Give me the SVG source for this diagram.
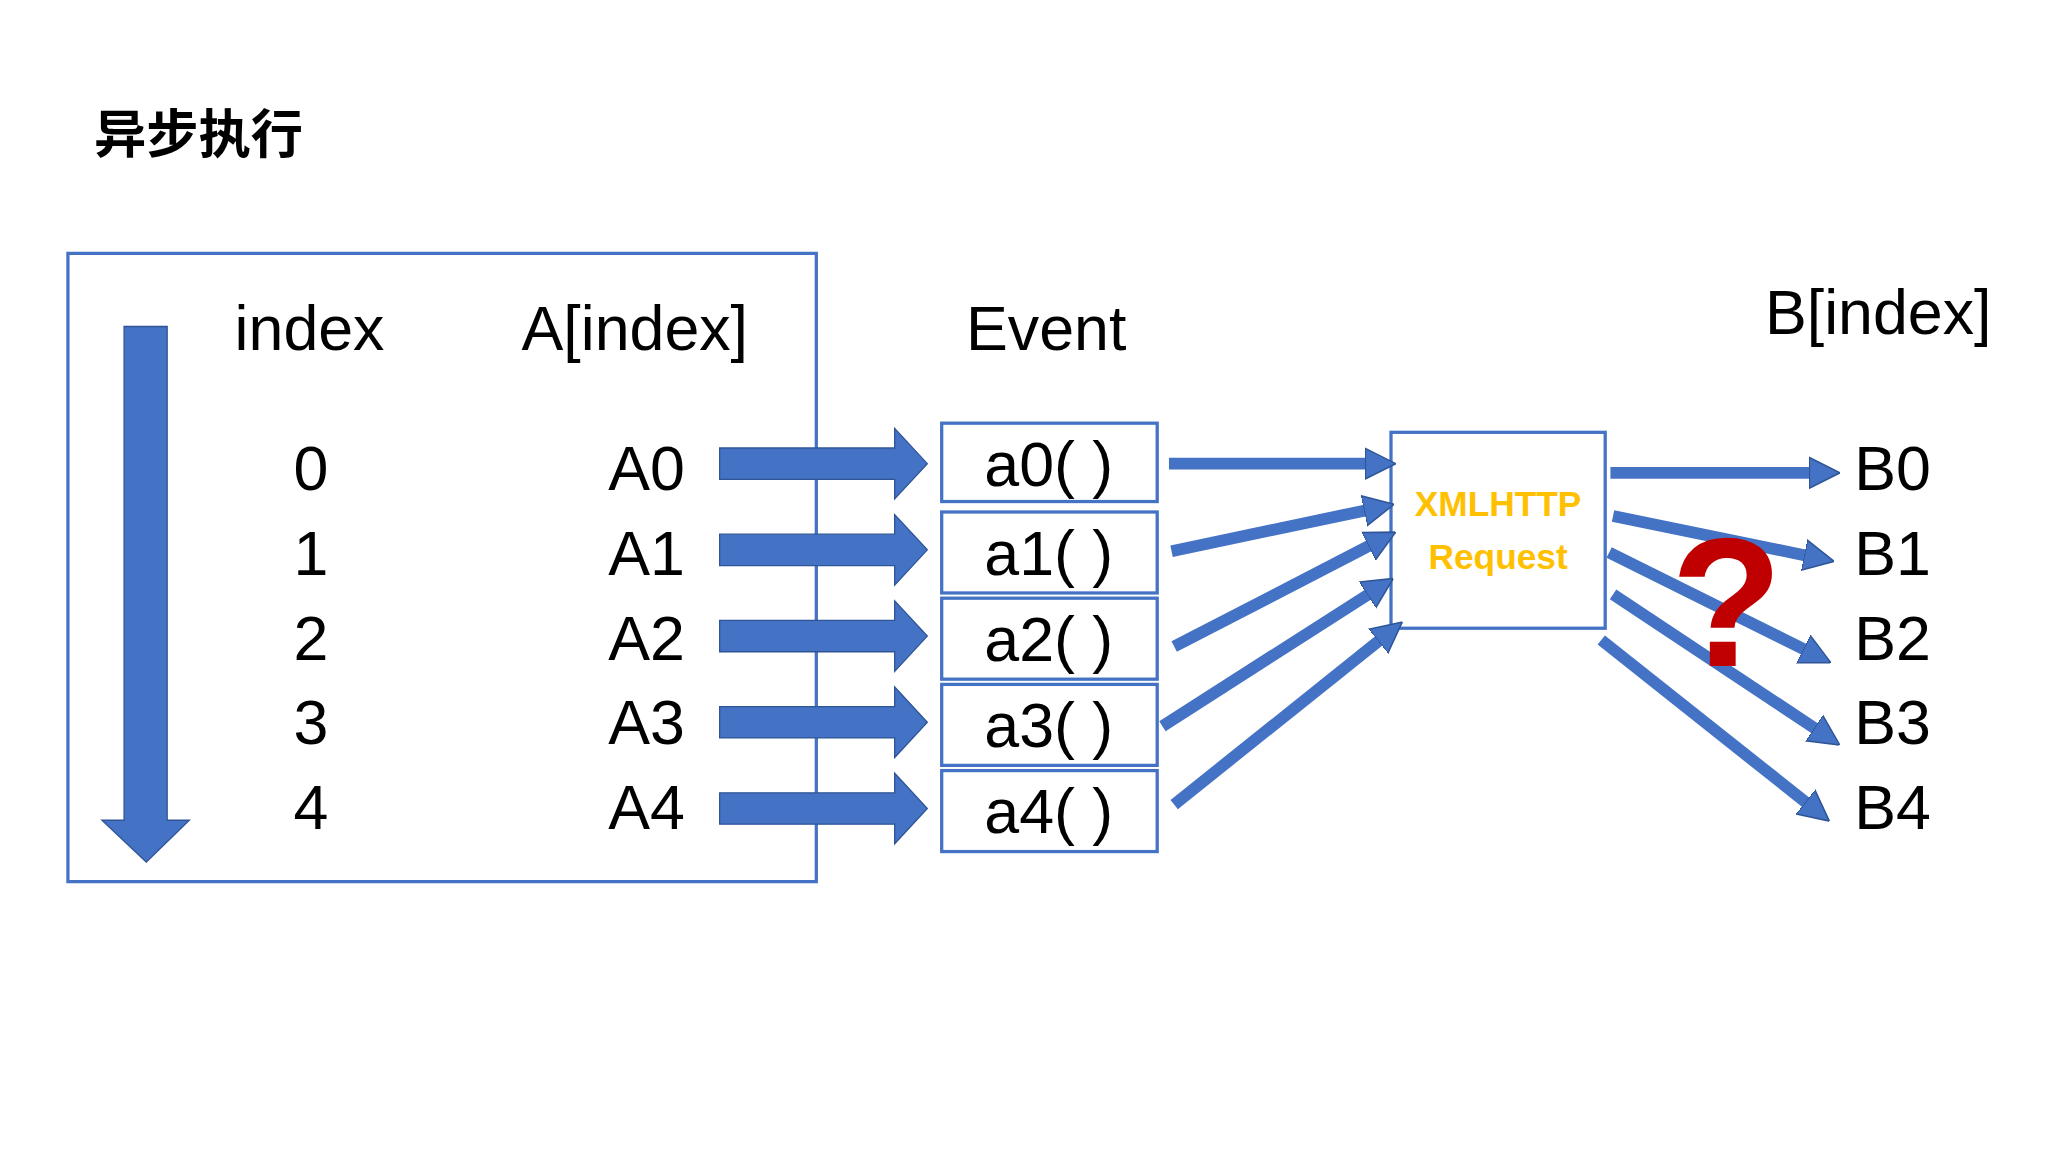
<svg xmlns="http://www.w3.org/2000/svg" width="2048" height="1152" viewBox="0 0 2048 1152">
<defs>
<style>
.t{font-family:"Liberation Sans","Noto Sans CJK SC",sans-serif;fill:#000;font-size:48px;text-anchor:middle}
.box{fill:#fff;stroke:#4472C4;stroke-width:2.5}
.blk{fill:#4472C4;stroke:#2F5597;stroke-width:1}
.ln{stroke:#4472C4;stroke-width:9;fill:none;marker-end:url(#ah)}
</style>
<marker id="ah" viewBox="0 0 10 10" refX="2" refY="5" markerWidth="2.6" markerHeight="3" orient="auto" markerUnits="strokeWidth">
<path d="M0,0 L10,5 L0,10 z" fill="#4472C4" stroke="#2F5597" stroke-width="0.5"/>
</marker>
</defs>
<rect width="2048" height="1152" fill="#fff"/>
<g transform="scale(1.3061)">
<text x="72" y="117" class="t" style="text-anchor:start;font-size:40px;font-weight:bold">异步执行</text>
<g id="leftbox">
<rect x="52" y="194" width="573" height="481" class="box"/>
<path d="M95,250 H128 V628 H145 L112,660 L78,628 H95 Z" class="blk"/>
<text x="237" y="268" class="t">index</text>
<text x="486" y="268" class="t">A[index]</text>
<text x="238" y="375" class="t">0</text><text x="238" y="440" class="t">1</text><text x="238" y="505" class="t">2</text><text x="238" y="570" class="t">3</text><text x="238" y="635" class="t">4</text>
<text x="495" y="375" class="t">A0</text><text x="495" y="440" class="t">A1</text><text x="495" y="505" class="t">A2</text><text x="495" y="570" class="t">A3</text><text x="495" y="635" class="t">A4</text>
</g>
<text x="801" y="268" class="t">Event</text>
<text x="1438" y="256" class="t">B[index]</text>
<g id="blockarrows">
<path d="M551,343 H685 V328 L710,355 L685,382 V367 H551 Z" class="blk"/>
<path d="M551,409 H685 V394 L710,421 L685,448 V433 H551 Z" class="blk"/>
<path d="M551,475 H685 V460 L710,487 L685,514 V499 H551 Z" class="blk"/>
<path d="M551,541 H685 V526 L710,553 L685,580 V565 H551 Z" class="blk"/>
<path d="M551,607 H685 V592 L710,619 L685,646 V631 H551 Z" class="blk"/>
</g>
<g id="e0"><rect x="721" y="324" width="165" height="60" class="box"/><text x="803" y="372" class="t">a0( )</text></g>
<g id="e1"><rect x="721" y="392" width="165" height="62" class="box"/><text x="803" y="440" class="t">a1( )</text></g>
<g id="e2"><rect x="721" y="458" width="165" height="62" class="box"/><text x="803" y="506" class="t">a2( )</text></g>
<g id="e3"><rect x="721" y="524" width="165" height="62" class="box"/><text x="803" y="572" class="t">a3( )</text></g>
<g id="e4"><rect x="721" y="590" width="165" height="62" class="box"/><text x="803" y="638" class="t">a4( )</text></g>
<g id="xhr"><rect x="1065" y="331" width="164" height="150" class="box"/>
<text x="1147" y="395" class="t" style="fill:#FFC000;font-size:27px;font-weight:bold">XMLHTTP</text>
<text x="1147" y="436" class="t" style="fill:#FFC000;font-size:27px;font-weight:bold">Request</text></g>
<g id="connectors">
<line x1="895" y1="355" x2="1050" y2="355" class="ln"/>
<line x1="897" y1="422" x2="1049" y2="390" class="ln"/>
<line x1="899" y1="495" x2="1052" y2="416" class="ln"/>
<line x1="890" y1="556" x2="1051" y2="453" class="ln"/>
<line x1="899" y1="616" x2="1059" y2="488" class="ln"/>
<line x1="1233" y1="362" x2="1390" y2="362" class="ln"/>
<line x1="1235" y1="395" x2="1386" y2="426" class="ln"/>
<line x1="1232" y1="423" x2="1385" y2="499" class="ln"/>
<line x1="1235" y1="455" x2="1393" y2="560" class="ln"/>
<line x1="1226" y1="490" x2="1386" y2="617" class="ln"/>
</g>
<text x="1322" y="510" class="t" style="fill:#C00000;font-size:140px;font-weight:bold">?</text>
<g id="blabels">
<text x="1449" y="375" class="t">B0</text><text x="1449" y="440" class="t">B1</text><text x="1449" y="505" class="t">B2</text><text x="1449" y="570" class="t">B3</text><text x="1449" y="635" class="t">B4</text>
</g>
</g>
</svg>
